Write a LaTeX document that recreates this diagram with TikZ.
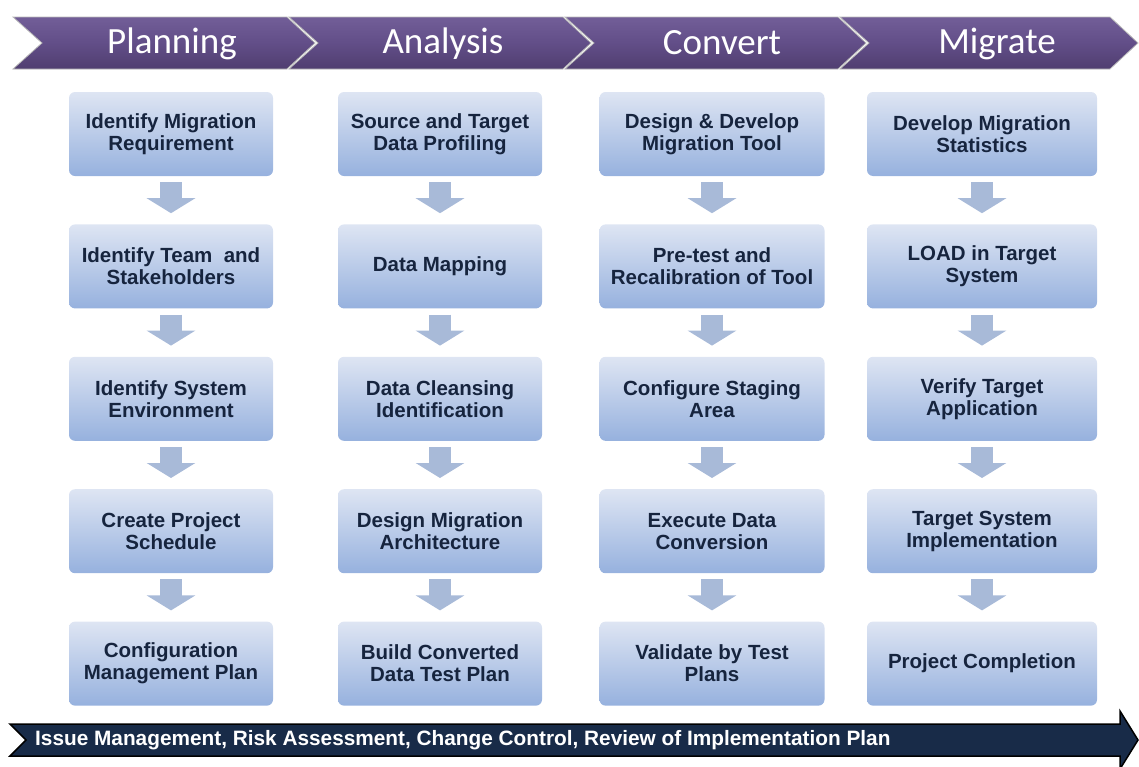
\documentclass[tikz,border=0pt]{standalone}
\usepackage{fontspec}
\setmainfont{Liberation Sans}
\newfontfamily\phasefont{Carlito}
\usetikzlibrary{positioning,arrows.meta,calc}
\definecolor{phasetop}{RGB}{114,94,152}
\definecolor{phasemid}{RGB}{98,78,136}
\definecolor{phasebottom}{RGB}{80,62,112}
\definecolor{boxtop}{RGB}{222,229,243}
\definecolor{boxbottom}{RGB}{150,177,222}
\definecolor{boxtext}{RGB}{22,36,62}
\definecolor{flowgrey}{RGB}{168,186,216}
\definecolor{issuenavy}{RGB}{24,43,72}
\tikzset{
	migration plan/.style={
		x=1pt,y=-1pt,
		node distance=48pt,
		font=\fontsize{20.5}{22}\selectfont\bfseries
	},
	phase chevron/.style={
		top color=phasetop,
		bottom color=phasebottom,
		middle color=phasemid,
		draw=gray!55,
		line width=0.8pt
	},
	phase label/.style={
		text=white,
		inner sep=0pt,
		font=\phasefont\fontsize{37}{40}\selectfont
	},
	task box/.style={
		rectangle,
		rounded corners=6pt,
		minimum width=#1,
		minimum height=84pt,
		inner sep=2pt,
		align=center,
		top color=boxtop,
		bottom color=boxbottom,
		text=boxtext
	},
	task box/.default=204pt,
	flow arrow/.style={
		draw=flowgrey,
		line width=22pt,
		shorten <=6pt,
		shorten >=11pt,
		-{Triangle[width=48pt,length=15pt]}
	},
	issue arrow/.style={
		fill=issuenavy,
		draw=black,
		line width=1.5pt,
		line join=miter
	},
	issue label/.style={
		anchor=west,
		text=white,
		inner sep=0pt,
		font=\fontsize{20.8}{22}\selectfont\bfseries
	}
}

\begin{document}
\begin{tikzpicture}[migration plan]
	\useasboundingbox (0,0) rectangle (1139,766);
	% phase headers
	\path[phase chevron] (13,17) -- (287,17) -- (315,43) -- (287,69) -- (13,69) -- (42,43) -- cycle;
	\path[phase chevron] (289,17) -- (563,17) -- (591,43) -- (563,69) -- (289,69) -- (318,43) -- cycle;
	\path[phase chevron] (565,17) -- (838,17) -- (866,43) -- (838,69) -- (565,69) -- (594,43) -- cycle;
	\path[phase chevron] (840,17) -- (1110,17) -- (1138,43) -- (1110,69) -- (840,69) -- (869,43) -- cycle;
	\node[phase label] (hplan) at (172,44) {Planning};
	\node[phase label] (hanal) at (443,44) {Analysis};
	\node[phase label] (hconv) at (722,43) {Convert};
	\node[phase label] (hmigr) at (997,44) {Migrate};

	% planning
	\node[task box] (plan1) at (171,134) {Identify Migration\\Requirement};
	\node[task box,below=of plan1] (plan2) {Identify Team~ and\\Stakeholders};
	\node[task box,below=of plan2] (plan3) {Identify System\\Environment};
	\node[task box,below=of plan3] (plan4) {Create Project\\Schedule};
	\node[task box,below=of plan4] (plan5) {Configuration\\Management Plan};

	% analysis
	\node[task box] (anal1) at (440,134) {Source and Target\\Data Profiling};
	\node[task box,below=of anal1] (anal2) {Data Mapping};
	\node[task box,below=of anal2] (anal3) {Data Cleansing\\Identification};
	\node[task box,below=of anal3] (anal4) {Design Migration\\Architecture};
	\node[task box,below=of anal4] (anal5) {Build Converted\\Data Test Plan};

	% convert
	\node[task box=225pt] (conv1) at (712,134) {Design \& Develop\\Migration Tool};
	\node[task box=225pt,below=of conv1] (conv2) {Pre-test and\\Recalibration of Tool};
	\node[task box=225pt,below=of conv2] (conv3) {Configure Staging\\Area};
	\node[task box=225pt,below=of conv3] (conv4) {Execute Data\\Conversion};
	\node[task box=225pt,below=of conv4] (conv5) {Validate by Test\\Plans};

	% migrate
	\node[task box=230pt] (migr1) at (982,134) {Develop Migration\\Statistics};
	\node[task box=230pt,below=of migr1] (migr2) {LOAD in Target\\System};
	\node[task box=230pt,below=of migr2] (migr3) {Verify Target\\Application};
	\node[task box=230pt,below=of migr3] (migr4) {Target System\\Implementation};
	\node[task box=230pt,below=of migr4] (migr5) {Project Completion};

	% steps down each column
	\draw[flow arrow] (plan1) -- (plan2);
	\draw[flow arrow] (plan2) -- (plan3);
	\draw[flow arrow] (plan3) -- (plan4);
	\draw[flow arrow] (plan4) -- (plan5);
	\draw[flow arrow] (anal1) -- (anal2);
	\draw[flow arrow] (anal2) -- (anal3);
	\draw[flow arrow] (anal3) -- (anal4);
	\draw[flow arrow] (anal4) -- (anal5);
	\draw[flow arrow] (conv1) -- (conv2);
	\draw[flow arrow] (conv2) -- (conv3);
	\draw[flow arrow] (conv3) -- (conv4);
	\draw[flow arrow] (conv4) -- (conv5);
	\draw[flow arrow] (migr1) -- (migr2);
	\draw[flow arrow] (migr2) -- (migr3);
	\draw[flow arrow] (migr3) -- (migr4);
	\draw[flow arrow] (migr4) -- (migr5);

	% ongoing activities
	\path[issue arrow] (10,724) -- (1120,724) -- (1120,711) -- (1138,740) -- (1120,769) -- (1120,756) -- (10,756) -- (26,740) -- cycle;
	\node[issue label] (issues) at (35,740) {Issue Management, Risk Assessment, Change Control, Review of Implementation Plan};
\end{tikzpicture}
\end{document}
